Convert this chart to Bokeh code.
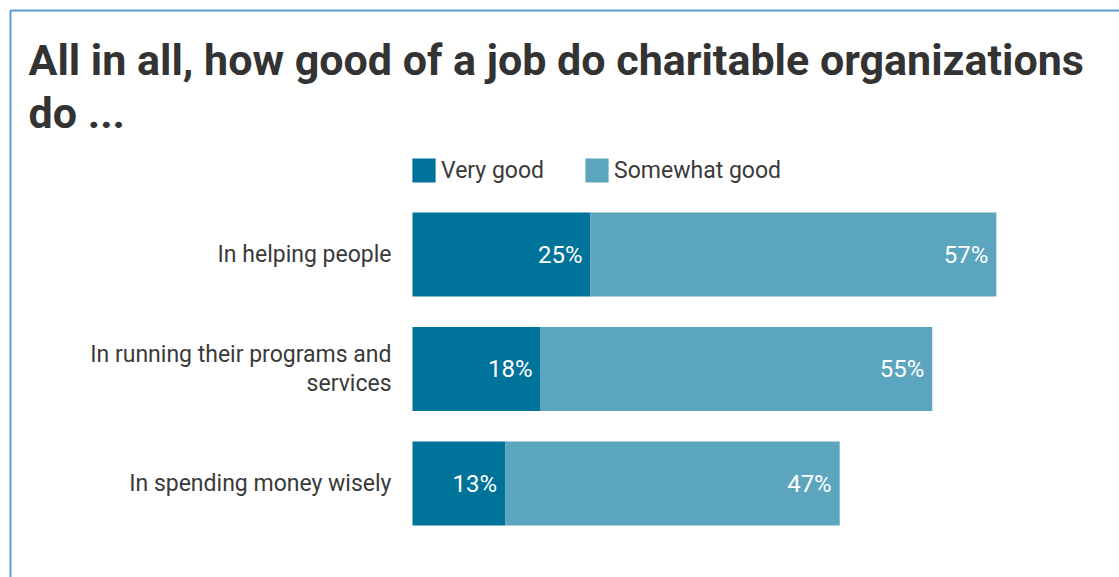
from bokeh.plotting import figure
from bokeh.models import ColumnDataSource, Range1d, Legend, LegendItem, Label, BoxAnnotation
from bokeh.core.properties import value
from bokeh.embed import file_html
from bokeh.resources import INLINE

# ---- data ----
categories = ["In helping people", "In running their programs and\nservices", "In spending money wisely"]
very_good = [25, 18, 13]
somewhat_good = [57, 55, 47]
series_names = ["Very good", "Somewhat good"]
title_lines = ["All in all, how good of a job do charitable organizations", "do ..."]

DARK = "#00739a"
LIGHT = "#5ba5bf"
TEXT = "#3a3a3a"
FONT = "Roboto"

W, H = 1119, 577
px_per_unit = 7.12
zero_px = 412
row0_px = 254
row_step = 114.5

rows = list(range(len(categories)))
totals = [a + b for a, b in zip(very_good, somewhat_good)]
src = ColumnDataSource(dict(
    y=rows, cat=categories, vg=very_good, sg=somewhat_good, tot=totals,
    vg_lbl=[f"{v}%" for v in very_good], sg_lbl=[f"{v}%" for v in somewhat_good],
    zero=[0] * len(rows),
))

p = figure(width=W, height=H, output_backend="svg", toolbar_location=None,
           x_range=Range1d(-zero_px / px_per_unit, (W - zero_px) / px_per_unit),
           y_range=Range1d((H - row0_px) / row_step, -row0_px / row_step),
           min_border=0, min_border_left=0, min_border_right=0,
           min_border_top=0, min_border_bottom=0)
p.axis.visible = False
p.grid.visible = False
p.outline_line_color = None
p.background_fill_color = "white"
p.border_fill_color = "white"

bar_h = 84 / row_step
r1 = p.hbar(y="y", left="zero", right="vg", height=bar_h, source=src,
            fill_color=DARK, line_color=None)
r2 = p.hbar(y="y", left="vg", right="tot", height=bar_h, source=src,
            fill_color=LIGHT, line_color=None)

# value labels
p.text(x="vg", y="y", text="vg_lbl", source=src, x_offset=-8,
       text_align="right", text_baseline="middle", text_color="white",
       text_font=value(FONT), text_font_size="24px")
p.text(x="tot", y="y", text="sg_lbl", source=src, x_offset=-8,
       text_align="right", text_baseline="middle", text_color="white",
       text_font=value(FONT), text_font_size="24px")

# category labels
p.text(x="zero", y="y", text="cat", source=src, x_offset=-21,
       text_align="right", text_baseline="middle", text_color=TEXT,
       text_font=value(FONT), text_font_size="23px", text_line_height=1.05)

# title (two lines)
for i, line in enumerate(title_lines):
    p.add_layout(Label(x=28, y=H - 59 - 53 * i, x_units="screen", y_units="screen",
                       text=line, text_font=FONT, text_font_size="43px",
                       text_font_style="bold", text_color="#333333",
                       text_baseline="alphabetic"))

# legend
legend = Legend(items=[LegendItem(label=series_names[0], renderers=[r1]),
                       LegendItem(label=series_names[1], renderers=[r2])],
                orientation="horizontal", location=(409, H - 185),
                glyph_width=29, glyph_height=30, label_height=30,
                label_text_font=FONT, label_text_font_size="23px",
                label_text_color=TEXT, label_standoff=3, spacing=38,
                padding=0, margin=0, border_line_color=None,
                background_fill_alpha=0)
p.add_layout(legend)

# outer frame line
p.add_layout(BoxAnnotation(left=10, top=10, right=W + 50, bottom=H + 50,
                           left_units="canvas", right_units="canvas",
                           top_units="canvas", bottom_units="canvas",
                           fill_alpha=0, line_color="#5b9bd5", line_alpha=1,
                           line_width=2))

open("out.html", "w").write(file_html(p, INLINE))
